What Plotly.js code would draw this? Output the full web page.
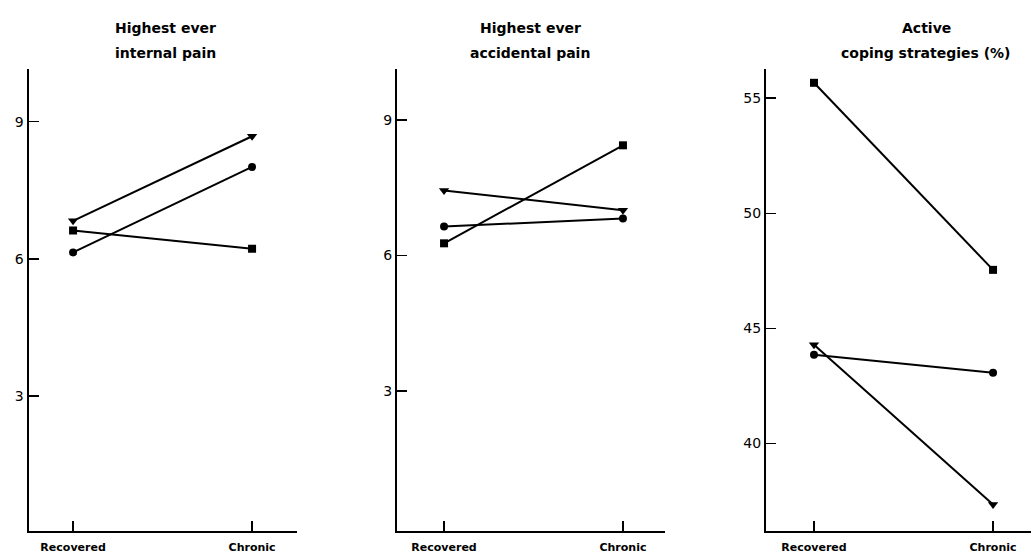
<!DOCTYPE html>
<html>
<head>
<meta charset="utf-8">
<script src="https://cdn.plot.ly/plotly-3.0.1.min.js"></script>
<style>html,body{margin:0;padding:0;background:#fff;}#chart{width:1031px;height:553px;}</style>
</head>
<body>
<div id="chart"></div>
<script>
// Categories (x positions 0 and 1)
var categories = ["Recovered", "Chronic"];

// Panel 1: Highest ever internal pain
var internalSquare   = [6.62, 6.22];
var internalCircle   = [6.14, 8.01];
var internalTriangle = [6.83, 8.68];

// Panel 2: Highest ever accidental pain
var accidentalSquare   = [6.27, 8.44];
var accidentalCircle   = [6.64, 6.82];
var accidentalTriangle = [7.44, 7.00];

// Panel 3: Active coping strategies (%)
var copingSquare   = [55.67, 47.54];
var copingCircle   = [43.85, 43.07];
var copingTriangle = [44.28, 37.34];

var panelTitles = [
  ["Highest ever", "internal pain"],
  ["Highest ever", "accidental pain"],
  ["Active", "coping strategies (%)"]
];
var yTicks1 = [3, 6, 9];
var yTicks2 = [3, 6, 9];
var yTicks3 = [40, 45, 50, 55];

var xIdx = categories.map(function(c, i){ return i; });
var FONT = "DejaVu Sans";

function series(y, sym, xa, ya, name) {
  return {
    x: xIdx, y: y, xaxis: xa, yaxis: ya, name: name,
    mode: "lines+markers", type: "scatter",
    line: {color: "#000", width: 2},
    marker: {symbol: sym, size: sym === "triangle-down" ? 9 : 8, color: "#000"},
    showlegend: false, hoverinfo: "x+y"
  };
}

var data = [
  series(internalSquare, "square", "x", "y", "square"),
  series(internalCircle, "circle", "x", "y", "circle"),
  series(internalTriangle, "triangle-down", "x", "y", "triangle"),
  series(accidentalSquare, "square", "x2", "y2", "square"),
  series(accidentalCircle, "circle", "x2", "y2", "circle"),
  series(accidentalTriangle, "triangle-down", "x2", "y2", "triangle"),
  series(copingSquare, "square", "x3", "y3", "square"),
  series(copingCircle, "circle", "x3", "y3", "circle"),
  series(copingTriangle, "triangle-down", "x3", "y3", "triangle")
];

var W = 1031, H = 553;
function px(a, b) { return [a / W, b / W]; }
var yDom = [1 - 531 / H, 1 - 69 / H];

function xaxis(dom, range, anchor) {
  return {
    domain: dom, range: range, anchor: anchor,
    tickmode: "array", tickvals: xIdx, ticktext: categories,
    ticks: "inside", ticklen: 10, tickwidth: 1.5, tickcolor: "#000",
    showline: true, linecolor: "#000", linewidth: 2,
    showgrid: false, zeroline: false, ticklabelstandoff: 5,
    tickfont: {family: FONT, size: 11, color: "#000", weight: "bold"}
  };
}
function yaxis(range, ticks, anchor) {
  return {
    domain: yDom, range: range, anchor: anchor,
    tickmode: "array", tickvals: ticks,
    ticks: "inside", ticklen: 10, tickwidth: 1.5, tickcolor: "#000",
    showline: true, linecolor: "#000", linewidth: 2,
    showgrid: false, zeroline: false,
    tickfont: {family: FONT, size: 14, color: "#000"}
  };
}

var titleCenters = [165, 530, 926];
var annotations = [];
panelTitles.forEach(function(t, i) {
  annotations.push({
    xref: "paper", yref: "paper", x: titleCenters[i] / W, y: 1 - 28 / H,
    text: t[0], showarrow: false, xanchor: "center", yanchor: "middle",
    font: {family: FONT, size: 14, color: "#000", weight: "bold"}
  });
  annotations.push({
    xref: "paper", yref: "paper", x: titleCenters[i] / W, y: 1 - 53 / H,
    text: t[1], showarrow: false, xanchor: "center", yanchor: "middle",
    font: {family: FONT, size: 14, color: "#000", weight: "bold"}
  });
});

var layout = {
  width: W, height: H,
  margin: {l: 0, r: 0, t: 0, b: 0},
  paper_bgcolor: "#fff", plot_bgcolor: "#fff",
  showlegend: false,
  xaxis:  xaxis(px(28.5, 297), [-0.249, 1.251], "y"),
  yaxis:  yaxis([0.05, 10.15], yTicks1, "x"),
  xaxis2: xaxis(px(397, 665), [-0.263, 1.235], "y2"),
  yaxis2: yaxis([-0.1, 10.13], yTicks2, "x2"),
  xaxis3: xaxis(px(766, 1031), [-0.268, 1.212], "y3"),
  yaxis3: yaxis([36.19, 56.27], yTicks3, "x3"),
  annotations: annotations
};

Plotly.newPlot("chart", data, layout, {displayModeBar: false, staticPlot: true});
</script>
</body>
</html>
